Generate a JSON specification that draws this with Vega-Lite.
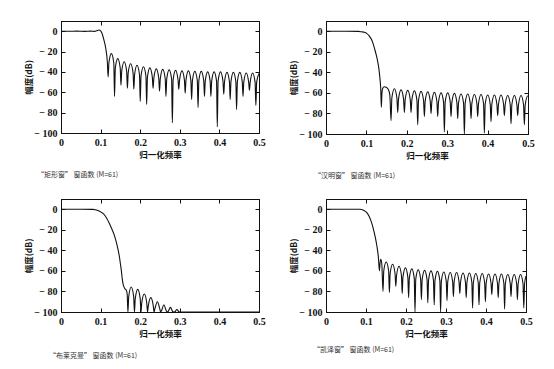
{
"$schema": "https://vega.github.io/schema/vega-lite/v6.json",
"padding": {"left": 23, "top": 20, "right": 5, "bottom": 5},
"background": "white",
"datasets": {
"rect": [{"f":0,"d":0},{"f":0.02,"d":-0.1},{"f":0.04,"d":0.1},{"f":0.06,"d":-0.2},{"f":0.075,"d":0.1},{"f":0.085,"d":-0.2},{"f":0.09,"d":0.4},{"f":0.096,"d":1.2},{"f":0.1,"d":0.3},{"f":0.103,"d":-1.5},{"f":0.108,"d":-8},{"f":0.1135,"d":-18},{"f":0.117,"d":-30},{"f":0.119,"d":-45},
{"f":0.1210,"d":-31},{"f":0.1271,"d":-22},{"f":0.1333,"d":-31},
{"f":0.1352,"d":-64},{"f":0.1372,"d":-36},{"f":0.1433,"d":-27},{"f":0.1495,"d":-36},
{"f":0.1514,"d":-53},{"f":0.1534,"d":-39},{"f":0.1595,"d":-30},{"f":0.1657,"d":-39},
{"f":0.1677,"d":-56},{"f":0.1697,"d":-41},{"f":0.1758,"d":-32},{"f":0.1820,"d":-41},
{"f":0.1839,"d":-57},{"f":0.1859,"d":-42.5},{"f":0.1920,"d":-33.5},{"f":0.1982,"d":-42.5},
{"f":0.2001,"d":-69},{"f":0.2021,"d":-44},{"f":0.2082,"d":-35},{"f":0.2144,"d":-44},
{"f":0.2163,"d":-72},{"f":0.2183,"d":-45},{"f":0.2244,"d":-36},{"f":0.2306,"d":-45},
{"f":0.2325,"d":-56},{"f":0.2345,"d":-46},{"f":0.2406,"d":-37},{"f":0.2468,"d":-46},
{"f":0.2488,"d":-59},{"f":0.2508,"d":-46.5},{"f":0.2569,"d":-37.5},{"f":0.2631,"d":-46.5},
{"f":0.2650,"d":-64},{"f":0.2670,"d":-47},{"f":0.2731,"d":-38},{"f":0.2793,"d":-47},
{"f":0.2812,"d":-90},{"f":0.2832,"d":-47.5},{"f":0.2893,"d":-38.5},{"f":0.2955,"d":-47.5},
{"f":0.2974,"d":-57},{"f":0.2994,"d":-48},{"f":0.3055,"d":-39},{"f":0.3117,"d":-48},
{"f":0.3136,"d":-61},{"f":0.3156,"d":-48},{"f":0.3217,"d":-39},{"f":0.3279,"d":-48},
{"f":0.3299,"d":-67},{"f":0.3319,"d":-48.5},{"f":0.3380,"d":-39.5},{"f":0.3442,"d":-48.5},
{"f":0.3461,"d":-75},{"f":0.3481,"d":-48.5},{"f":0.3542,"d":-39.5},{"f":0.3604,"d":-48.5},
{"f":0.3623,"d":-64},{"f":0.3643,"d":-49},{"f":0.3704,"d":-40},{"f":0.3766,"d":-49},
{"f":0.3785,"d":-64},{"f":0.3805,"d":-49},{"f":0.3866,"d":-40},{"f":0.3928,"d":-49},
{"f":0.3947,"d":-94},{"f":0.3967,"d":-49},{"f":0.4028,"d":-40},{"f":0.4090,"d":-49},
{"f":0.4110,"d":-62},{"f":0.4130,"d":-49.5},{"f":0.4191,"d":-40.5},{"f":0.4253,"d":-49.5},
{"f":0.4272,"d":-67},{"f":0.4292,"d":-49.5},{"f":0.4353,"d":-40.5},{"f":0.4415,"d":-49.5},
{"f":0.4434,"d":-77},{"f":0.4454,"d":-49.5},{"f":0.4515,"d":-40.5},{"f":0.4577,"d":-49.5},
{"f":0.4596,"d":-64},{"f":0.4616,"d":-50},{"f":0.4677,"d":-41},{"f":0.4739,"d":-50},
{"f":0.4758,"d":-58},{"f":0.4778,"d":-50},{"f":0.4839,"d":-41},{"f":0.4901,"d":-50},
{"f":0.4921,"d":-73},{"f":0.4941,"d":-50},{"f":0.5,"d":-41.5}],
"hamm": [{"f":0,"d":0},{"f":0.05,"d":0},{"f":0.08,"d":-0.1},{"f":0.088,"d":-0.5},{"f":0.095,"d":-1},{"f":0.1007,"d":-2},{"f":0.107,"d":-4.5},{"f":0.113,"d":-8.3},{"f":0.117,"d":-12.5},{"f":0.121,"d":-18},{"f":0.124,"d":-22.5},{"f":0.127,"d":-27.5},{"f":0.130,"d":-34},{"f":0.132,"d":-40},{"f":0.134,"d":-48},{"f":0.1355,"d":-56},{"f":0.137,"d":-74},{"f":0.1385,"d":-60},{"f":0.1405,"d":-55.5},{"f":0.144,"d":-54},{"f":0.149,"d":-54.5},{"f":0.154,"d":-56.5},{"f":0.158,"d":-62},
{"f":0.1610,"d":-87},{"f":0.1630,"d":-65},{"f":0.1693,"d":-56},{"f":0.1755,"d":-65},
{"f":0.1775,"d":-79},{"f":0.1795,"d":-66},{"f":0.1858,"d":-57},{"f":0.1920,"d":-66},
{"f":0.1940,"d":-79},{"f":0.1960,"d":-66.5},{"f":0.2023,"d":-57.5},{"f":0.2085,"d":-66.5},
{"f":0.2105,"d":-79},{"f":0.2125,"d":-67},{"f":0.2188,"d":-58},{"f":0.2250,"d":-67},
{"f":0.2270,"d":-91},{"f":0.2290,"d":-67.5},{"f":0.2353,"d":-58.5},{"f":0.2415,"d":-67.5},
{"f":0.2435,"d":-83},{"f":0.2455,"d":-68},{"f":0.2518,"d":-59},{"f":0.2580,"d":-68},
{"f":0.2600,"d":-80},{"f":0.2620,"d":-68.5},{"f":0.2683,"d":-59.5},{"f":0.2745,"d":-68.5},
{"f":0.2765,"d":-83},{"f":0.2785,"d":-69},{"f":0.2848,"d":-60},{"f":0.2910,"d":-69},
{"f":0.2930,"d":-98},{"f":0.2950,"d":-69},{"f":0.3013,"d":-60},{"f":0.3075,"d":-69},
{"f":0.3095,"d":-83},{"f":0.3115,"d":-69.5},{"f":0.3178,"d":-60.5},{"f":0.3240,"d":-69.5},
{"f":0.3260,"d":-85},{"f":0.3280,"d":-70},{"f":0.3343,"d":-61},{"f":0.3405,"d":-70},
{"f":0.3425,"d":-100},{"f":0.3445,"d":-70},{"f":0.3508,"d":-61},{"f":0.3570,"d":-70},
{"f":0.3590,"d":-85},{"f":0.3610,"d":-70.5},{"f":0.3673,"d":-61.5},{"f":0.3735,"d":-70.5},
{"f":0.3755,"d":-83},{"f":0.3775,"d":-70.5},{"f":0.3838,"d":-61.5},{"f":0.3900,"d":-70.5},
{"f":0.3920,"d":-99},{"f":0.3940,"d":-71},{"f":0.4003,"d":-62},{"f":0.4065,"d":-71},
{"f":0.4085,"d":-88},{"f":0.4105,"d":-71},{"f":0.4168,"d":-62},{"f":0.4230,"d":-71},
{"f":0.4250,"d":-82},{"f":0.4270,"d":-71},{"f":0.4333,"d":-62},{"f":0.4395,"d":-71},
{"f":0.4415,"d":-82},{"f":0.4435,"d":-71.5},{"f":0.4498,"d":-62.5},{"f":0.4560,"d":-71.5},
{"f":0.4580,"d":-90},{"f":0.4600,"d":-71.5},{"f":0.4663,"d":-62.5},{"f":0.4725,"d":-71.5},
{"f":0.4745,"d":-82},{"f":0.4765,"d":-71.5},{"f":0.4828,"d":-62.5},{"f":0.4890,"d":-71.5},
{"f":0.4910,"d":-91},{"f":0.4930,"d":-72},{"f":0.4993,"d":-63},{"f":0.5,"d":-63.2}],
"black": [{"f":0,"d":0},{"f":0.05,"d":0},{"f":0.08,"d":-0.1},{"f":0.087,"d":-0.5},{"f":0.095,"d":-1.5},{"f":0.102,"d":-3},{"f":0.108,"d":-4.8},{"f":0.115,"d":-8.5},{"f":0.121,"d":-12.9},{"f":0.127,"d":-18},{"f":0.1335,"d":-24},{"f":0.139,"d":-31},{"f":0.1437,"d":-38.6},{"f":0.147,"d":-45},{"f":0.150,"d":-53},{"f":0.1525,"d":-60},{"f":0.1546,"d":-67.5},{"f":0.157,"d":-73},{"f":0.159,"d":-75.6},{"f":0.1615,"d":-77.5},{"f":0.1645,"d":-78.5},{"f":0.167,"d":-82},
{"f":0.169,"d":-100},{"f":0.171,"d":-85},{"f":0.1773,"d":-75.6},{"f":0.1835,"d":-85},
{"f":0.1855,"d":-100},{"f":0.1875,"d":-87},{"f":0.1938,"d":-78},{"f":0.2000,"d":-87},
{"f":0.2020,"d":-100},{"f":0.2040,"d":-91},{"f":0.2103,"d":-82.5},{"f":0.2165,"d":-91},
{"f":0.2185,"d":-100},{"f":0.2205,"d":-94},{"f":0.2268,"d":-86},{"f":0.2330,"d":-94},
{"f":0.2350,"d":-100},{"f":0.2370,"d":-97},{"f":0.2433,"d":-90},{"f":0.2495,"d":-97},
{"f":0.2515,"d":-100},{"f":0.2535,"d":-99},{"f":0.2598,"d":-93},{"f":0.2660,"d":-99},
{"f":0.2680,"d":-100},{"f":0.2705,"d":-99.5},{"f":0.2763,"d":-95.5},{"f":0.2820,"d":-99.5},
{"f":0.2845,"d":-100},{"f":0.2875,"d":-99.8},{"f":0.2928,"d":-97.5},{"f":0.2980,"d":-99.8},
{"f":0.3010,"d":-100},{"f":0.5,"d":-100}],
"kaiser": [{"f":0,"d":0},{"f":0.05,"d":0},{"f":0.085,"d":0},{"f":0.089,"d":-0.3},{"f":0.095,"d":-1.2},{"f":0.102,"d":-3.2},{"f":0.108,"d":-7},{"f":0.114,"d":-13},{"f":0.118,"d":-18.5},{"f":0.1225,"d":-26},{"f":0.126,"d":-33},{"f":0.1285,"d":-39},{"f":0.131,"d":-47},{"f":0.1335,"d":-60},{"f":0.1352,"d":-52},{"f":0.1368,"d":-48.7},{"f":0.1395,"d":-53},
{"f":0.1425,"d":-80},{"f":0.1444,"d":-60},{"f":0.1505,"d":-51.3},{"f":0.1566,"d":-60},
{"f":0.1585,"d":-81},{"f":0.1604,"d":-62.5},{"f":0.1665,"d":-53.5},{"f":0.1726,"d":-62.5},
{"f":0.1745,"d":-75},{"f":0.1764,"d":-64.5},{"f":0.1825,"d":-55.5},{"f":0.1886,"d":-64.5},
{"f":0.1905,"d":-82},{"f":0.1924,"d":-66},{"f":0.1985,"d":-57},{"f":0.2046,"d":-66},
{"f":0.2065,"d":-86},{"f":0.2084,"d":-67},{"f":0.2145,"d":-58},{"f":0.2206,"d":-67},
{"f":0.2225,"d":-100},{"f":0.2244,"d":-68},{"f":0.2305,"d":-59},{"f":0.2366,"d":-68},
{"f":0.2385,"d":-88},{"f":0.2404,"d":-68.5},{"f":0.2465,"d":-59.5},{"f":0.2526,"d":-68.5},
{"f":0.2545,"d":-91},{"f":0.2564,"d":-69},{"f":0.2625,"d":-60},{"f":0.2686,"d":-69},
{"f":0.2705,"d":-93},{"f":0.2724,"d":-69.5},{"f":0.2785,"d":-60.5},{"f":0.2846,"d":-69.5},
{"f":0.2865,"d":-100},{"f":0.2884,"d":-70},{"f":0.2945,"d":-61},{"f":0.3006,"d":-70},
{"f":0.3025,"d":-89},{"f":0.3044,"d":-70.5},{"f":0.3105,"d":-61.5},{"f":0.3166,"d":-70.5},
{"f":0.3185,"d":-85},{"f":0.3204,"d":-70.5},{"f":0.3265,"d":-61.5},{"f":0.3326,"d":-70.5},
{"f":0.3345,"d":-82},{"f":0.3364,"d":-71},{"f":0.3425,"d":-62},{"f":0.3486,"d":-71},
{"f":0.3505,"d":-86},{"f":0.3524,"d":-71},{"f":0.3585,"d":-62},{"f":0.3646,"d":-71},
{"f":0.3665,"d":-96},{"f":0.3684,"d":-71.5},{"f":0.3745,"d":-62.5},{"f":0.3806,"d":-71.5},
{"f":0.3825,"d":-93},{"f":0.3844,"d":-71.5},{"f":0.3905,"d":-62.5},{"f":0.3966,"d":-71.5},
{"f":0.3985,"d":-90},{"f":0.4004,"d":-72},{"f":0.4065,"d":-63},{"f":0.4126,"d":-72},
{"f":0.4145,"d":-83},{"f":0.4164,"d":-72},{"f":0.4225,"d":-63},{"f":0.4286,"d":-72},
{"f":0.4305,"d":-86},{"f":0.4324,"d":-72},{"f":0.4385,"d":-63},{"f":0.4446,"d":-72},
{"f":0.4465,"d":-97},{"f":0.4484,"d":-72.5},{"f":0.4545,"d":-63.5},{"f":0.4606,"d":-72.5},
{"f":0.4625,"d":-85},{"f":0.4644,"d":-72.5},{"f":0.4705,"d":-63.5},{"f":0.4766,"d":-72.5},
{"f":0.4785,"d":-88},{"f":0.4804,"d":-72.5},{"f":0.4865,"d":-63.5},{"f":0.4926,"d":-72.5},
{"f":0.4945,"d":-96},{"f":0.4964,"d":-73},{"f":0.5,"d":-65}]
},
"columns": 2,
"spacing": {"column": 22, "row": 19},
"concat": [
{"width": 198, "height": 112, "data": {"name": "rect"},
 "title": {"text": "“矩形窗” 窗函数 (M=61)", "orient": "bottom", "anchor": "start", "frame": "group", "dx": -24, "offset": 12},
 "layer": [
  {"mark": {"type": "line", "interpolate": "monotone", "color": "#111", "strokeWidth": 1.1, "clip": true},
   "encoding": {"x": {"field": "f", "type": "quantitative", "scale": {"domain": [0, 0.5], "nice": false}, "axis": {"orient": "bottom", "values": [0,0.1,0.2,0.3,0.4,0.5], "format": ".1~f", "title": "归一化频率"}},
                "y": {"field": "d", "type": "quantitative", "scale": {"domain": [-100, 10], "nice": false}, "axis": {"orient": "left", "values": [0,-20,-40,-60,-80,-100], "labelExpr": "datum.value < 0 ? '− ' + abs(datum.value) : '0'", "title": "幅度(dB)", "titleX": -28, "titleY": 56}}}},
  {"mark": {"type": "line", "opacity": 0},
   "encoding": {"x": {"field": "f", "type": "quantitative", "axis": {"orient": "top", "values": [0,0.1,0.2,0.3,0.4,0.5], "labels": false, "title": null}},
                "y": {"field": "d", "type": "quantitative", "axis": {"orient": "right", "values": [0,-20,-40,-60,-80,-100], "labels": false, "title": null}}}}
 ],
 "resolve": {"axis": {"x": "independent", "y": "independent"}}},
{"width": 202, "height": 113, "data": {"name": "hamm"},
 "title": {"text": "“汉明窗” 窗函数 (M=61)", "orient": "bottom", "anchor": "start", "frame": "group", "dx": -12, "offset": 12},
 "layer": [
  {"mark": {"type": "line", "interpolate": "monotone", "color": "#111", "strokeWidth": 1.1, "clip": true},
   "encoding": {"x": {"field": "f", "type": "quantitative", "scale": {"domain": [0, 0.5], "nice": false}, "axis": {"orient": "bottom", "values": [0,0.1,0.2,0.3,0.4,0.5], "format": ".1~f", "title": "归一化频率"}},
                "y": {"field": "d", "type": "quantitative", "scale": {"domain": [-100, 10], "nice": false}, "axis": {"orient": "left", "values": [0,-20,-40,-60,-80,-100], "labelExpr": "datum.value < 0 ? '− ' + abs(datum.value) : '0'", "title": "幅度(dB)", "titleX": -28, "titleY": 56.5}}}},
  {"mark": {"type": "line", "opacity": 0},
   "encoding": {"x": {"field": "f", "type": "quantitative", "axis": {"orient": "top", "values": [0,0.1,0.2,0.3,0.4,0.5], "labels": false, "title": null}},
                "y": {"field": "d", "type": "quantitative", "axis": {"orient": "right", "values": [0,-20,-40,-60,-80,-100], "labels": false, "title": null}}}}
 ],
 "resolve": {"axis": {"x": "independent", "y": "independent"}}},
{"width": 198, "height": 113, "data": {"name": "black"},
 "title": {"text": "“布莱克曼” 窗函数 (M=61)", "orient": "bottom", "anchor": "start", "frame": "group", "dx": -12, "offset": 14},
 "layer": [
  {"mark": {"type": "line", "interpolate": "monotone", "color": "#111", "strokeWidth": 1.1, "clip": true},
   "encoding": {"x": {"field": "f", "type": "quantitative", "scale": {"domain": [0, 0.5], "nice": false}, "axis": {"orient": "bottom", "values": [0,0.1,0.2,0.3,0.4,0.5], "format": ".1~f", "title": "归一化频率"}},
                "y": {"field": "d", "type": "quantitative", "scale": {"domain": [-100, 10], "nice": false}, "axis": {"orient": "left", "values": [0,-20,-40,-60,-80,-100], "labelExpr": "datum.value < 0 ? '− ' + abs(datum.value) : '0'", "title": "幅度(dB)", "titleX": -28, "titleY": 56.5}}}},
  {"mark": {"type": "line", "opacity": 0},
   "encoding": {"x": {"field": "f", "type": "quantitative", "axis": {"orient": "top", "values": [0,0.1,0.2,0.3,0.4,0.5], "labels": false, "title": null}},
                "y": {"field": "d", "type": "quantitative", "axis": {"orient": "right", "values": [0,-20,-40,-60,-80,-100], "labels": false, "title": null}}}}
 ],
 "resolve": {"axis": {"x": "independent", "y": "independent"}}},
{"width": 200, "height": 113, "data": {"name": "kaiser"},
 "title": {"text": "“凯泽窗” 窗函数 (M=61)", "orient": "bottom", "anchor": "start", "frame": "group", "dx": -13, "offset": 8},
 "layer": [
  {"mark": {"type": "line", "interpolate": "monotone", "color": "#111", "strokeWidth": 1.1, "clip": true},
   "encoding": {"x": {"field": "f", "type": "quantitative", "scale": {"domain": [0, 0.5], "nice": false}, "axis": {"orient": "bottom", "values": [0,0.1,0.2,0.3,0.4,0.5], "format": ".1~f", "title": "归一化频率"}},
                "y": {"field": "d", "type": "quantitative", "scale": {"domain": [-100, 10], "nice": false}, "axis": {"orient": "left", "values": [0,-20,-40,-60,-80,-100], "labelExpr": "datum.value < 0 ? '− ' + abs(datum.value) : '0'", "title": "幅度(dB)", "titleX": -28, "titleY": 56.5}}}},
  {"mark": {"type": "line", "opacity": 0},
   "encoding": {"x": {"field": "f", "type": "quantitative", "axis": {"orient": "top", "values": [0,0.1,0.2,0.3,0.4,0.5], "labels": false, "title": null}},
                "y": {"field": "d", "type": "quantitative", "axis": {"orient": "right", "values": [0,-20,-40,-60,-80,-100], "labels": false, "title": null}}}}
 ],
 "resolve": {"axis": {"x": "independent", "y": "independent"}}}
],
"config": {
 "view": {"stroke": "#111", "strokeWidth": 1},
 "axis": {"grid": false, "domainColor": "#111", "domainWidth": 1, "tickColor": "#111", "tickSize": -4, "labelPadding": 8, "labelFont": "Liberation Serif", "labelFontWeight": "bold", "labelFontSize": 10, "labelColor": "#111", "labelOverlap": false, "labelFlush": false, "titleFont": "Noto Sans CJK SC", "titleFontWeight": "bold", "titleFontSize": 8.5, "titleColor": "#111", "titlePadding": 3},
 "title": {"font": "Noto Sans CJK SC", "fontSize": 7, "fontWeight": "normal", "color": "#333"}
}
}
